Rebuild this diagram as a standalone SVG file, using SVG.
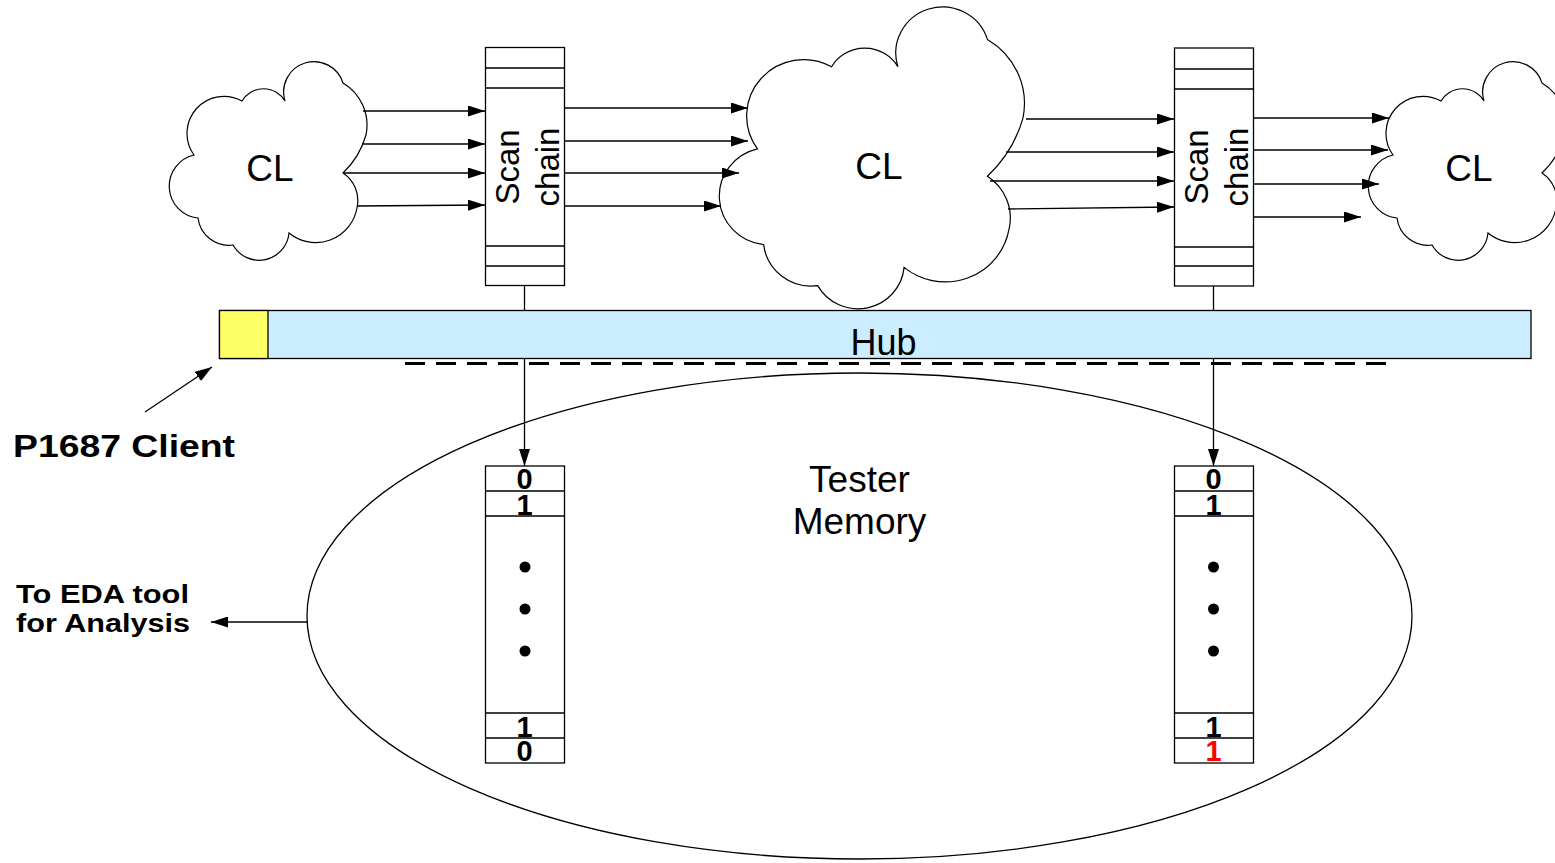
<svg xmlns="http://www.w3.org/2000/svg" xmlns:xlink="http://www.w3.org/1999/xlink" width="1555" height="863" viewBox="0 0 1555 863">
  <style>
    .ln { stroke: #000; stroke-width: 1.3; fill: none; }
    .arrow { stroke: #000; stroke-width: 1.3; fill: none; marker-end: url(#head); }
    .box { fill: #fff; stroke: #000; stroke-width: 1.3; }
    .cloud { fill: #fff; stroke: #000; stroke-width: 1.2; }
    .txt { font-family: "Liberation Sans", Arial, Helvetica, sans-serif; fill: #000; }
    .big { font-size: 37px; text-anchor: middle; }
    .scan { font-size: 33px; text-anchor: middle; }
    .bold { font-weight: bold; }
    .bit { font-size: 29px; font-weight: bold; text-anchor: middle; }
  </style>
  <defs>
    <marker id="head" markerUnits="userSpaceOnUse" markerWidth="17" markerHeight="11" refX="17" refY="5.5" orient="auto">
      <path d="M0,0 L17,5.5 L0,11 Z" fill="#000"/>
    </marker>
    <!-- cloud outline, drawn at the position of the left cloud -->
    <path id="cloudShape" vector-effect="non-scaling-stroke" d="M194,155 A37,37 0 0 1 242,101 A25,25 0 0 1 285,101 A30,30 0 0 1 343,83 A49,49 0 0 1 366,135 A84,84 0 0 1 343,173 A33,33 0 0 1 357,208 A42,42 0 0 1 289,233 A30,30 0 0 1 233,245 A31,31 0 0 1 198,218 A32,32 0 0 1 194,155 Z"/>
  </defs>

  <rect width="1555" height="863" fill="#fff"/>

  <!-- tester memory -->
  <g id="tester-memory">
    <ellipse cx="859.5" cy="616" rx="552.5" ry="243" fill="#fff" stroke="#000" stroke-width="1.3"/>
    <text class="txt big" x="859.5" y="492">Tester</text>
    <text class="txt big" x="859.5" y="534">Memory</text>
  </g>

  <!-- combinational logic clouds -->
  <g id="cloud-left">
    <use xlink:href="#cloudShape" class="cloud"/>
    <text class="txt big" x="270" y="181">CL</text>
  </g>
  <g id="cloud-mid">
    <use xlink:href="#cloudShape" class="cloud" transform="translate(722,9) scale(1.543,1.52) translate(-171,-63)"/>
    <text class="txt big" x="879" y="179">CL</text>
  </g>
  <g id="cloud-right">
    <use xlink:href="#cloudShape" class="cloud" transform="translate(1199,0)"/>
    <text class="txt big" x="1469" y="181">CL</text>
  </g>

  <!-- scan chains -->
  <g id="scan-1">
    <rect class="box" x="485.5" y="47.5" width="79" height="238"/>
    <path class="ln" d="M485.5,68 H564.5 M485.5,88 H564.5 M485.5,246 H564.5 M485.5,266 H564.5"/>
    <text class="txt scan" transform="translate(518.5,167) rotate(-90)">Scan</text>
    <text class="txt scan" transform="translate(558.5,167) rotate(-90)">chain</text>
  </g>
  <g id="scan-2">
    <rect class="box" x="1174.5" y="48" width="79" height="238"/>
    <path class="ln" d="M1174.5,69 H1253.5 M1174.5,89 H1253.5 M1174.5,247 H1253.5 M1174.5,266 H1253.5"/>
    <text class="txt scan" transform="translate(1207.5,167) rotate(-90)">Scan</text>
    <text class="txt scan" transform="translate(1247.5,167) rotate(-90)">chain</text>
  </g>

  <!-- hub with client -->
  <g id="hub">
    <rect x="219.5" y="310.5" width="1311.5" height="48" fill="#CCECFF" stroke="#000" stroke-width="1.3"/>
    <rect x="219.5" y="310.5" width="48.5" height="48" fill="#FFFF66" stroke="#000" stroke-width="1.3"/>
    <text class="txt" x="883.5" y="355" font-size="36" text-anchor="middle">Hub</text>
  </g>

  <!-- memory columns -->
  <g id="mem-1">
    <rect class="box" x="485.5" y="466" width="79" height="297"/>
    <path class="ln" d="M485.5,491 H564.5 M485.5,516 H564.5 M485.5,713 H564.5 M485.5,738 H564.5"/>
    <text class="txt bit" x="524.5" y="489">0</text>
    <text class="txt bit" x="524.5" y="515">1</text>
    <text class="txt bit" x="524.5" y="737">1</text>
    <text class="txt bit" x="524.5" y="761">0</text>
    <circle cx="525" cy="567" r="5.5"/>
    <circle cx="525" cy="609" r="5.5"/>
    <circle cx="525" cy="651" r="5.5"/>
  </g>
  <g id="mem-2">
    <rect class="box" x="1174.5" y="466" width="79" height="297"/>
    <path class="ln" d="M1174.5,491 H1253.5 M1174.5,516 H1253.5 M1174.5,713 H1253.5 M1174.5,738 H1253.5"/>
    <text class="txt bit" x="1213.5" y="489">0</text>
    <text class="txt bit" x="1213.5" y="515">1</text>
    <text class="txt bit" x="1213.5" y="737">1</text>
    <text class="txt bit" x="1213.5" y="761" style="fill:#FF0000">1</text>
    <circle cx="1213.5" cy="567" r="5.5"/>
    <circle cx="1213.5" cy="609" r="5.5"/>
    <circle cx="1213.5" cy="651" r="5.5"/>
  </g>

  <!-- side labels -->
  <g id="client-label">
    <text class="txt bold" x="13" y="457" font-size="31" textLength="222" lengthAdjust="spacingAndGlyphs">P1687 Client</text>
  </g>
  <g id="eda-label">
    <text class="txt bold" x="16" y="603" font-size="25" textLength="173" lengthAdjust="spacingAndGlyphs">To EDA tool</text>
    <text class="txt bold" x="16" y="632" font-size="25" textLength="174" lengthAdjust="spacingAndGlyphs">for Analysis</text>
  </g>

  <!-- connectors -->
  <g id="connectors">
    <!-- left cloud to scan chain 1 -->
    <line class="arrow" x1="363" y1="111" x2="485" y2="111"/>
    <line class="arrow" x1="362" y1="144" x2="485" y2="144"/>
    <line class="arrow" x1="343" y1="173" x2="485" y2="173"/>
    <line class="arrow" x1="357" y1="206" x2="485" y2="205"/>
    <!-- scan chain 1 to middle cloud -->
    <line class="arrow" x1="564.5" y1="108" x2="748" y2="108"/>
    <line class="arrow" x1="564.5" y1="141" x2="748" y2="141"/>
    <line class="arrow" x1="564.5" y1="173" x2="739" y2="173"/>
    <line class="arrow" x1="564.5" y1="206" x2="721" y2="206"/>
    <!-- middle cloud to scan chain 2 -->
    <line class="arrow" x1="1026" y1="119" x2="1174" y2="119"/>
    <line class="arrow" x1="1006" y1="152" x2="1174" y2="152"/>
    <line class="arrow" x1="990" y1="181" x2="1174" y2="181"/>
    <line class="arrow" x1="1008" y1="209" x2="1174" y2="207"/>
    <!-- scan chain 2 to right cloud -->
    <line class="arrow" x1="1253.5" y1="118" x2="1389" y2="118"/>
    <line class="arrow" x1="1253.5" y1="150" x2="1388" y2="150"/>
    <line class="arrow" x1="1253.5" y1="184" x2="1379" y2="184"/>
    <line class="arrow" x1="1253.5" y1="217" x2="1361" y2="217"/>
    <!-- scan chains to hub -->
    <line class="ln" x1="524.5" y1="285.5" x2="524.5" y2="310.5"/>
    <line class="ln" x1="1213.5" y1="286" x2="1213.5" y2="310.5"/>
    <!-- hub to tester memory -->
    <line class="arrow" x1="524.5" y1="358.5" x2="524.5" y2="466"/>
    <line class="arrow" x1="1213.5" y1="358.5" x2="1213.5" y2="466"/>
    <!-- hub boundary -->
    <line x1="405" y1="363.5" x2="1392" y2="363.5" stroke="#000" stroke-width="3" stroke-dasharray="20 11"/>
    <!-- client pointer -->
    <line class="arrow" x1="145" y1="412" x2="212" y2="367"/>
    <!-- memory to EDA tool -->
    <line class="arrow" x1="307" y1="622" x2="211" y2="622"/>
  </g>
</svg>
